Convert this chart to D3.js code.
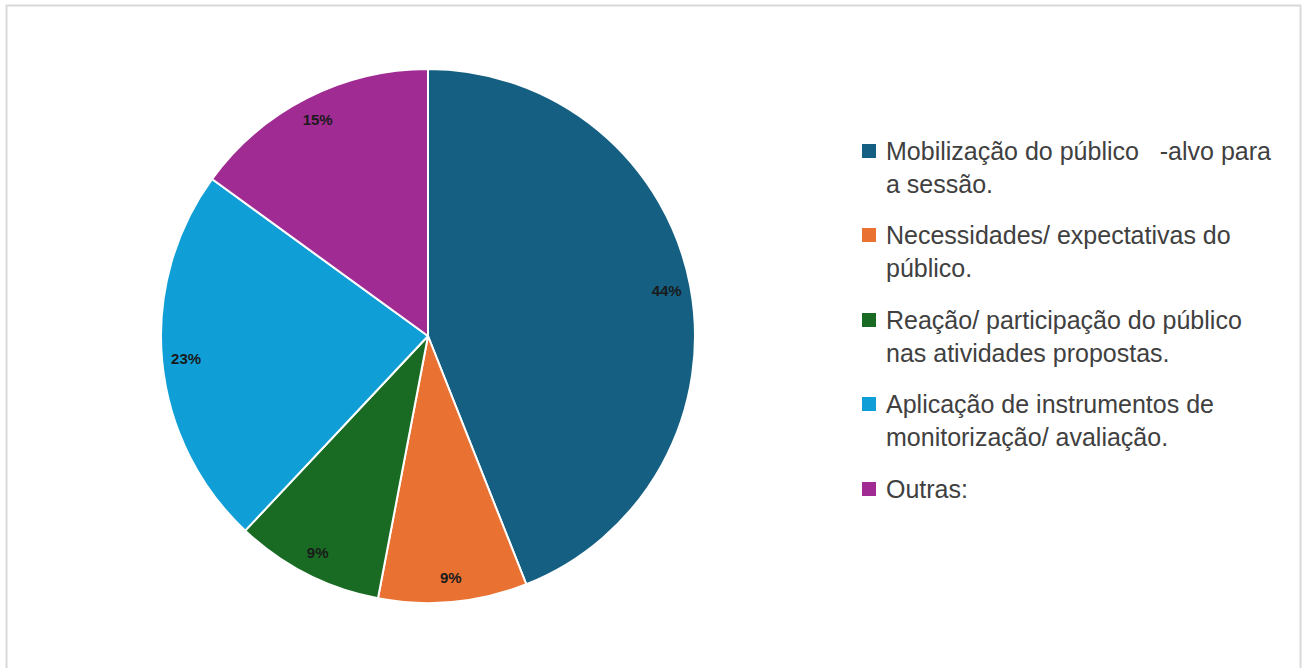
<!DOCTYPE html>
<html><head><meta charset="utf-8">
<script src="https://cdn.jsdelivr.net/npm/d3@7"></script>
<style>body{margin:0;background:#fff}svg{display:block}</style>
</head><body>
<svg id="c" width="1303" height="668"></svg>
<script>
const categories = [
  ["Mobilização do público   -alvo para", "a sessão."],
  ["Necessidades/ expectativas do", "público."],
  ["Reação/ participação do público", "nas atividades propostas."],
  ["Aplicação de instrumentos de", "monitorização/ avaliação."],
  ["Outras:"]
];
const values = [44, 9, 9, 23, 15];
const labels = ["44%", "9%", "9%", "23%", "15%"];
const colors = ["#156082", "#E97132", "#196B24", "#0F9ED5", "#A02B93"];

const svg = d3.select("#c");
svg.append("rect").attr("x", 6.5).attr("y", 5.5).attr("width", 1294).attr("height", 680)
  .attr("fill", "#fff").attr("stroke", "#d9d9d9").attr("stroke-width", 2);

const cx = 428, cy = 336, R = 267;
const pie = d3.pie().sort(null).value(d => d);
const arcs = pie(values);
const arc = d3.arc().innerRadius(0).outerRadius(R);
const labelArc = d3.arc().innerRadius(R * 0.91).outerRadius(R * 0.91);
const g = svg.append("g").attr("transform", `translate(${cx},${cy})`);
g.selectAll("path").data(arcs).join("path")
  .attr("d", arc).attr("fill", (d, i) => colors[i])
  .attr("stroke", "#fff").attr("stroke-width", 2).attr("stroke-linejoin", "round");
g.selectAll("text").data(arcs).join("text")
  .attr("transform", d => `translate(${labelArc.centroid(d)})`)
  .attr("text-anchor", "middle").attr("dy", "0.35em")
  .attr("font-family", "'Liberation Sans Narrow', 'Arial Narrow', sans-serif")
  .attr("font-weight", "bold").attr("font-size", 15).attr("fill", "#1a1a1a")
  .text((d, i) => labels[i]);

const lg = svg.append("g").attr("transform", "translate(862,0)");
const itemY = [151, 235, 320, 404, 489];
categories.forEach((lines, i) => {
  const it = lg.append("g").attr("transform", `translate(0,${itemY[i]})`);
  it.append("rect").attr("x", 0).attr("y", -7).attr("width", 14).attr("height", 14).attr("fill", colors[i]);
  lines.forEach((t, j) => {
    it.append("text").attr("x", 24).attr("y", j * 33).attr("dy", "0.35em")
      .attr("font-family", "'Liberation Sans Narrow', 'Arial Narrow', sans-serif")
      .attr("font-size", 25).attr("fill", "#404040")
      .style("white-space", "pre").text(t);
  });
});
</script>
</body></html>
